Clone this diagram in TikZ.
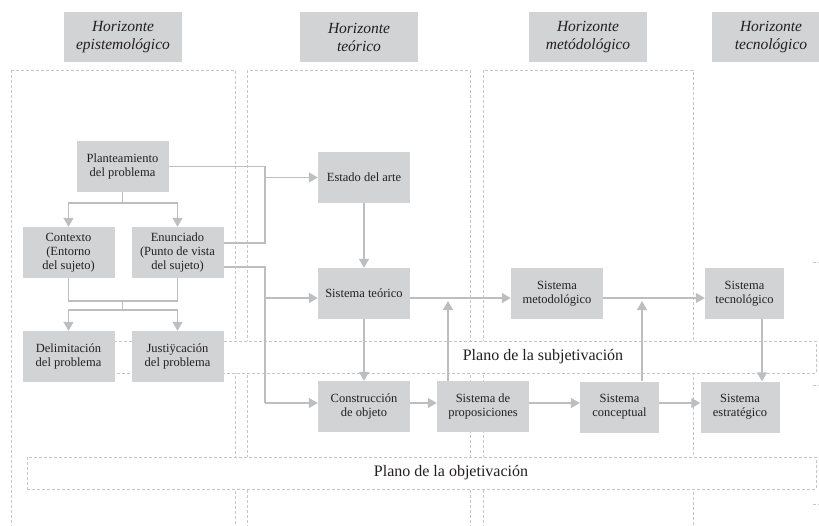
\documentclass[tikz,border=0pt]{standalone}
\usepackage{fontspec}
\setmainfont{Liberation Serif}
\usepackage{tikz}
\usetikzlibrary{arrows.meta}
\definecolor{boxgray}{HTML}{D1D3D4}
\definecolor{linegray}{HTML}{BCBEC0}
\definecolor{dashgray}{HTML}{C4C6C8}
\definecolor{textgray}{HTML}{231F20}

\begin{document}
\begin{tikzpicture}[
  x=1pt, y=-1pt,
  every node/.style={text=textgray},
  box/.style={fill=boxgray, minimum width=92pt, minimum height=51pt, align=center, inner sep=2pt, font=\fontsize{12.5}{14}\selectfont},
  narrowbox/.style={box, minimum width=79pt},
  header/.style={fill=boxgray, minimum width=118pt, minimum height=50pt, align=center, font=\fontsize{15.5}{18}\selectfont\itshape},
  column/.style={draw=dashgray, line width=0.8pt, dash pattern=on 3pt off 2pt},
  plane/.style={column, fill=white, minimum height=32pt, minimum width=789pt, inner sep=0pt},
  planelabel/.style={font=\fontsize{16}{18}\selectfont},
  link/.style={draw=linegray, line width=1.5pt},
  arr/.style={link, -{Triangle[length=9pt,width=10pt]}}
]
  \useasboundingbox (0,0) rectangle (819,525);

  \node[header] (hepis) at (123,37) {Horizonte\\epistemológico};
  \node[header] (hteo) at (359,37) {Horizonte\\teórico};
  \node[header] (hmet) at (588,37) {Horizonte\\metódológico};
  \node[header] (htec) at (771,37) {Horizonte\\tecnológico};

  \draw[column] (11,70) rectangle (235,535);
  \draw[column] (247,70) rectangle (470,535);
  \draw[column] (483,70) rectangle (693,535);
  \draw[column] (813,262) -- (821,262);
  \draw[column] (813,385) -- (821,385);
  \draw[column] (813,504) -- (821,504);

  \node[plane] (subj) at (421.5,357) {};
  \node[plane] (obj) at (421.5,473) {};
  \node[planelabel] (subjlbl) at (543,357) {Plano de la subjetivación};
  \node[planelabel] (objlbl) at (451,473) {Plano de la objetivación};

  \node[box] (plan) at (122.5,166.5) {Planteamiento\\del problema};
  \node[box] (ctx) at (68.5,252.5) {Contexto\\(Entorno\\del sujeto)};
  \node[box] (enun) at (177.5,252.5) {Enunciado\\(Punto de vista\\del sujeto)};
  \node[box] (delim) at (68.5,356.5) {Delimitación\\del problema};
  \node[box] (just) at (177.5,356.5) {Justiÿcación\\del problema};
  \node[box] (estado) at (364,177.5) {Estado del arte};
  \node[box] (teorico) at (364,293.5) {Sistema teórico};
  \node[box] (constr) at (364,406.5) {Construcción\\de objeto};
  \node[box] (prop) at (483,406.5) {Sistema de\\proposiciones};
  \node[box] (metod) at (557,293.5) {Sistema\\metodológico};
  \node[narrowbox] (concep) at (619.5,407) {Sistema\\conceptual};
  \node[narrowbox] (tecno) at (744.5,293.5) {Sistema\\tecnológico};
  \node[narrowbox] (estrat) at (740,407) {Sistema\\estratégico};

  \coordinate (fork1) at (122.5,203);
  \coordinate (join1) at (122.5,301);
  \coordinate (fork2) at (122.5,310);
  \coordinate (bus1) at (265,166.5);
  \coordinate (bus2) at (265,243);
  \coordinate (bus3) at (265,267);
  \coordinate (bus4) at (265,403);
  \coordinate (row2) at (0,298);
  \coordinate (row3) at (0,403);
  \coordinate (up1) at (448,301);
  \coordinate (up2) at (642,301);
  \coordinate (down1) at (762,0);

  \draw[link] (plan) -- (fork1);
  \draw[arr] (fork1) -| (ctx);
  \draw[arr] (fork1) -| (enun);
  \draw[link] (ctx) |- (join1) -| (enun);
  \draw[link] (join1) -- (fork2);
  \draw[arr] (fork2) -| (delim);
  \draw[arr] (fork2) -| (just);

  \draw[link] (plan) -- (bus1) -- (bus2) -- (bus2 -| enun.east);
  \draw[arr] (bus1 |- estado) -- (estado);
  \draw[link] (bus3 -| enun.east) -- (bus3) -- (bus4);
  \draw[arr] (bus3 |- row2) -- (teorico.west |- row2);
  \draw[arr] (bus4) -- (constr.west |- bus4);

  \draw[arr] (estado) -- (teorico);
  \draw[arr] (teorico) -- (constr);
  \draw[arr] (teorico.east |- row2) -- (metod.west |- row2);
  \draw[arr] (metod.east |- row2) -- (tecno.west |- row2);
  \draw[arr] (constr.east |- row3) -- (prop.west |- row3);
  \draw[arr] (prop.east |- row3) -- (concep.west |- row3);
  \draw[arr] (concep.east |- row3) -- (estrat.west |- row3);
  \draw[arr] (prop.north -| up1) -- (up1);
  \draw[arr] (concep.north -| up2) -- (up2);
  \draw[arr] (tecno.south -| down1) -- (estrat.north -| down1);
\end{tikzpicture}
\end{document}
